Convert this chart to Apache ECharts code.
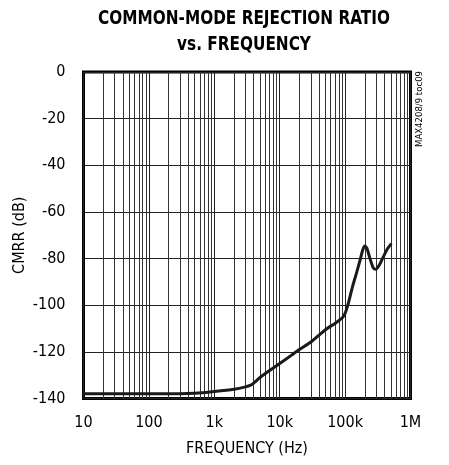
<!DOCTYPE html>
<html>
<head>
<meta charset="utf-8">
<script src="https://cdn.jsdelivr.net/npm/echarts@6/dist/echarts.min.js"></script>
<style>
html,body{margin:0;padding:0;background:#fff;}
#chart{width:449px;height:465px;}
</style>
</head>
<body>
<div id="chart"></div>
<script>
// Data
var freqHz = [10, 30, 100, 300, 500, 1000, 2000, 3000, 3600, 4000, 5000, 7000, 10000, 15000, 20000, 30000, 50000, 70000, 90000, 100000, 110000, 130000, 150000, 170000, 185000, 200000, 215000, 240000, 270000, 295000, 330000, 380000, 440000, 510000];
var cmrrDb = [-138, -138, -138, -138, -137.8, -137, -136, -135, -134.3, -133.4, -131, -128, -125, -121.5, -119, -115.8, -110.5, -107.8, -105.5, -103.5, -100, -92, -86, -80.5, -76.5, -74.6, -75.5, -80, -84, -84.6, -83, -79.5, -76, -73.6];
var xTickValues = [10, 100, 1000, 10000, 100000, 1000000];
var xTickLabels = ['10', '100', '1k', '10k', '100k', '1M'];
var yTickValues = [0, -20, -40, -60, -80, -100, -120, -140];
var minorGridFreqs = [];
for (var d = 0; d < 5; d++) {
  for (var m = 2; m <= 9; m++) minorGridFreqs.push(m * Math.pow(10, d + 1));
}

var FONT = "'Liberation Sans Narrow', 'DejaVu Sans Condensed', 'Liberation Sans', sans-serif";
var chart = echarts.init(document.getElementById('chart'), null, {renderer: 'canvas'});

var labelMap = {};
xTickValues.forEach(function (v, i) { labelMap[v] = xTickLabels[i]; });

chart.setOption({
  animation: false,
  backgroundColor: '#fff',
  grid: {
    left: 83.5, right: 38.5, top: 72, bottom: 66.5,
    containLabel: false, outerBoundsMode: 'none',
    show: true, borderColor: '#000', borderWidth: 3, backgroundColor: 'transparent'
  },
  graphic: [
    {type: 'text', x: 244, y: 19, scaleX: 0.85, style: {text: 'COMMON-MODE REJECTION RATIO', x: 0, y: 0, align: 'center', verticalAlign: 'middle', font: 'bold 20px ' + FONT, fill: '#000'}},
    {type: 'text', x: 244, y: 45, scaleX: 0.85, style: {text: 'vs. FREQUENCY', x: 0, y: 0, align: 'center', verticalAlign: 'middle', font: 'bold 20px ' + FONT, fill: '#000'}},
    {type: 'text', rotation: Math.PI / 2, x: 420, y: 109, style: {text: 'MAX4208/9 toc09', x: 0, y: 0, align: 'center', verticalAlign: 'middle', font: '9.5px ' + FONT, fill: '#000'}}
  ],
  xAxis: {
    type: 'log', logBase: 10, min: 10, max: 1000000,
    name: 'FREQUENCY (Hz)', nameLocation: 'middle', nameGap: 42,
    nameTextStyle: {fontFamily: FONT, fontSize: 16, color: '#000'},
    axisLine: {show: false},
    axisTick: {show: false},
    axisLabel: {
      margin: 16, fontFamily: FONT, fontSize: 16, color: '#000',
      formatter: function (v) { return labelMap[Math.round(v)] || ''; }
    },
    splitLine: {show: true, lineStyle: {color: '#222', width: 1}},
    minorSplitLine: {show: false}
  },
  yAxis: {
    type: 'value', min: -140, max: 0, interval: 20,
    name: 'CMRR (dB)', nameLocation: 'middle', nameGap: 56, nameMoveOverlap: false,
    nameTextStyle: {fontFamily: FONT, fontSize: 16, color: '#000'},
    axisLine: {show: false},
    axisTick: {show: false},
    axisLabel: {margin: 18, fontFamily: FONT, fontSize: 16, color: '#000'},
    splitLine: {show: true, lineStyle: {color: '#222', width: 1}}
  },
  series: [
    {
      type: 'line',
      data: [],
      silent: true,
      markLine: {
        silent: true,
        symbol: 'none',
        label: {show: false},
        lineStyle: {color: '#333', width: 1, type: 'solid'},
        data: minorGridFreqs.map(function (f) { return {xAxis: f}; })
      }
    },
    {
      type: 'line',
      data: freqHz.map(function (f, i) { return [f, cmrrDb[i]]; }),
      showSymbol: false,
      smooth: 0.25,
      lineStyle: {color: '#1a1a1a', width: 3},
      z: 5
    }
  ]
});
</script>
</body>
</html>
